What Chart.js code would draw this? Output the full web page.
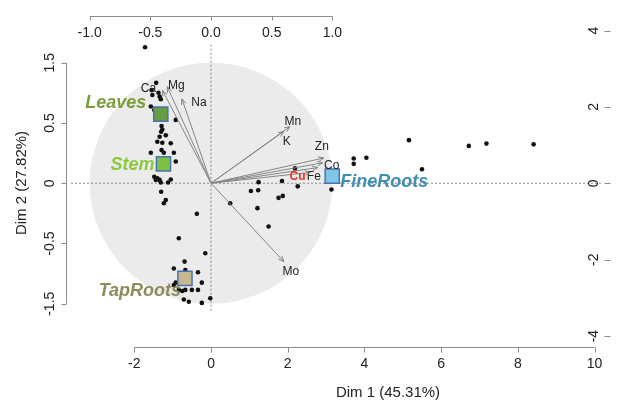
<!DOCTYPE html>
<html>
<head>
<meta charset="utf-8">
<script src="https://cdn.jsdelivr.net/npm/chart.js@4/dist/chart.umd.min.js"></script>
<style>
  body { margin: 0; background: #fff; }
</style>
</head>
<body>
<canvas id="pcaChart" width="618" height="407"></canvas>
<script>
// individuals (scores on Dim 1 / Dim 2)
var indX = [-1.72,-1.43,-1.55,-1.53,-1.37,-1.34,-1.31,-1.57,-1.48,-0.92,
            -1.29,-1.27,-1.30,-1.34,-1.18,-1.40,-1.27,-1.05,-1.57,-1.29,
            -1.23,-0.97,-0.92,-1.48,-1.40,-1.34,-1.44,-1.05,-1.12,-1.31,
            -1.30,-1.18,-1.23,-0.37,-0.84,-0.15,-0.69,-0.97,-0.67,-0.34,
            -0.92,-0.97,-0.24,-0.84,-0.75,-0.67,-0.50,-0.34,-0.71,-0.58,
            -0.24,-0.02,2.19,1.24,1.85,2.26,1.04,1.23,1.87,1.76,
            3.14,0.50,1.21,1.50,3.72,3.72,4.05,5.16,5.50,6.72,
            7.18,8.41];
var indY = [3.56,2.63,2.44,2.31,2.37,2.27,2.20,2.01,1.92,1.66,
            1.50,1.41,1.35,1.22,1.26,1.09,1.06,1.05,0.80,0.87,
            0.80,0.80,0.57,0.17,0.13,0.09,0.09,0.10,0.02,0.02,
            -0.22,-0.44,-0.52,-0.80,-1.44,-1.83,-2.05,-2.23,-2.27,-2.33,
            -2.60,-2.66,-2.60,-2.79,-2.82,-2.79,-2.79,-2.79,-3.04,-3.10,
            -3.13,-3.01,0.39,0.03,0.06,-0.08,-0.20,-0.18,-0.33,-0.38,
            -0.16,-0.52,-0.65,-1.13,0.65,0.51,0.67,1.13,0.37,0.98,
            1.04,1.02];

// organ centroids
var groups = ["Leaves", "Stem", "TapRoots", "FineRoots"];
var groupX = [-1.31, -1.24, -0.68, 3.16];
var groupY = [1.81, 0.51, -2.49, 0.19];

// variables (correlations with Dim 1 / Dim 2)
var vars = ["Ca", "Mg", "Na", "Mn", "K", "Zn", "Co", "Fe", "Cu", "Mo"];
var varX = [-0.40, -0.36, -0.24, 0.65, 0.60, 0.93, 0.92, 0.88, 0.82, 0.60];
var varY = [0.77, 0.80, 0.70, 0.47, 0.43, 0.21, 0.17, 0.13, 0.09, -0.65];

// axis ticks
var dim1Ticks = [-2, 0, 2, 4, 6, 8, 10];
var dim2Ticks = [-4, -2, 0, 2, 4];
var corXTicks = [-1, -0.5, 0, 0.5, 1];
var corXLabels = ["-1.0", "-0.5", "0.0", "0.5", "1.0"];
var corYTicks = [-1, -0.5, 0, 0.5, 1];
var corYLabels = ["-1.5", "-0.5", "0", "0.5", "1.5"];

// styles
var groupFill = ["#64a043", "#7cc143", "#c6b98f", "#80c4e6"];
var groupText = ["#7a9e3c", "#8dc83f", "#8d8b5c", "#3f8db0"];
var groupLabelOffset = [[-45, -11], [-31, 1], [-45, 13], [52, 6]];
var varLabelOffset = [[-14, -2], [9, -1], [17, 4], [3, -5], [3, 10], [-2, -11], [9, 3], [-4, 9], [-13, 4], [7, 10]];
var axisColor = "#8c8c8c";
var font = "'Liberation Sans', Arial, sans-serif";

var pts = indX.map(function (x, i) { return { x: x, y: indY[i] }; });
var centroids = groupX.map(function (x, i) { return { x: x, y: groupY[i] }; });

var datasets = [{
    label: "groups",
    data: centroids,
    pointStyle: "rect",
    pointRadius: 10,
    backgroundColor: groupFill,
    borderColor: "#4a72b2",
    borderWidth: 1.5
}];
vars.forEach(function (v, i) {
    datasets.push({
        label: v,
        data: [{ x: 0, y: 0 }, { x: varX[i], y: varY[i] }],
        xAxisID: "xl",
        yAxisID: "yl",
        showLine: true,
        borderColor: "#868686",
        borderWidth: 1,
        pointRadius: 0
    });
});
datasets.push({
    label: "individuals",
    data: pts,
    pointRadius: 2.3,
    backgroundColor: "#111",
    borderWidth: 0
});
var arrowCount = vars.length;

function rotText(ctx, txt, x, y) {
    ctx.save();
    ctx.translate(x, y);
    ctx.rotate(-Math.PI / 2);
    ctx.fillText(txt, 0, 0);
    ctx.restore();
}

var background = {
    id: "background",
    beforeDatasetsDraw: function (chart) {
        var ctx = chart.ctx, s = chart.scales;
        var cx = s.xl.getPixelForValue(0), cy = s.yl.getPixelForValue(0);
        var rx = s.xl.getPixelForValue(1) - cx, ry = cy - s.yl.getPixelForValue(1);
        ctx.save();
        ctx.fillStyle = "#ebebeb";
        ctx.beginPath();
        ctx.ellipse(cx, cy, rx, ry, 0, 0, Math.PI * 2);
        ctx.fill();
        ctx.strokeStyle = "#8a8a8a";
        ctx.lineWidth = 1;
        ctx.setLineDash([2, 2]);
        ctx.beginPath();
        ctx.moveTo(s.x.getPixelForValue(-3.65), cy);
        ctx.lineTo(s.x.getPixelForValue(10.2), cy);
        ctx.moveTo(cx, s.yl.getPixelForValue(1.15));
        ctx.lineTo(cx, s.yl.getPixelForValue(-1.06));
        ctx.stroke();
        ctx.restore();
    }
};

var labels = {
    id: "labels",
    afterDatasetsDraw: function (chart) {
        var ctx = chart.ctx;
        ctx.save();
        // arrow heads
        ctx.strokeStyle = "#868686";
        ctx.lineWidth = 1;
        for (var i = 0; i < arrowCount; i++) {
            var m = chart.getDatasetMeta(i + 1).data;
            var a = Math.atan2(m[1].y - m[0].y, m[1].x - m[0].x);
            ctx.beginPath();
            ctx.moveTo(m[1].x - 6 * Math.cos(a - 0.4), m[1].y - 6 * Math.sin(a - 0.4));
            ctx.lineTo(m[1].x, m[1].y);
            ctx.lineTo(m[1].x - 6 * Math.cos(a + 0.4), m[1].y - 6 * Math.sin(a + 0.4));
            ctx.stroke();
            ctx.textAlign = "center";
            ctx.textBaseline = "middle";
            if (vars[i] === "Cu") {
                ctx.font = "bold 12px " + font;
                ctx.fillStyle = "#e8322a";
            } else {
                ctx.font = "12px " + font;
                ctx.fillStyle = "#222";
            }
            ctx.fillText(vars[i], m[1].x + varLabelOffset[i][0], m[1].y + varLabelOffset[i][1]);
        }
        // group names
        var g = chart.getDatasetMeta(0).data;
        ctx.font = "italic bold 18px " + font;
        groups.forEach(function (name, i) {
            ctx.fillStyle = groupText[i];
            ctx.fillText(name, g[i].x + groupLabelOffset[i][0], g[i].y + groupLabelOffset[i][1]);
        });
        ctx.restore();
    }
};

var axes = {
    id: "axes",
    afterDraw: function (chart) {
        var ctx = chart.ctx, s = chart.scales, area = chart.chartArea;
        ctx.save();
        ctx.strokeStyle = axisColor;
        ctx.lineWidth = 1;
        ctx.fillStyle = "#222";
        ctx.font = "14px " + font;
        ctx.textAlign = "center";
        ctx.textBaseline = "middle";

        // bottom: Dim 1 scores
        var yb = area.bottom + 0.5;
        ctx.beginPath();
        ctx.moveTo(s.x.getPixelForValue(dim1Ticks[0]), yb);
        ctx.lineTo(s.x.getPixelForValue(dim1Ticks[dim1Ticks.length - 1]), yb);
        dim1Ticks.forEach(function (t) {
            var px = Math.round(s.x.getPixelForValue(t)) + 0.5;
            ctx.moveTo(px, yb);
            ctx.lineTo(px, yb + 5);
        });
        ctx.stroke();
        dim1Ticks.forEach(function (t) {
            ctx.fillText(String(t), s.x.getPixelForValue(t), yb + 17);
        });

        // top: Dim 1 correlations
        var yt = area.top + 0.5;
        ctx.beginPath();
        ctx.moveTo(s.xl.getPixelForValue(corXTicks[0]), yt);
        ctx.lineTo(s.xl.getPixelForValue(corXTicks[corXTicks.length - 1]), yt);
        corXTicks.forEach(function (t) {
            var px = Math.round(s.xl.getPixelForValue(t)) + 0.5;
            ctx.moveTo(px, yt);
            ctx.lineTo(px, yt + 4);
        });
        ctx.stroke();
        corXTicks.forEach(function (t, i) {
            ctx.fillText(corXLabels[i], s.xl.getPixelForValue(t), yt + 17);
        });

        // left: Dim 2 correlations
        var xl = area.left + 0.5;
        ctx.beginPath();
        ctx.moveTo(xl, s.yl.getPixelForValue(corYTicks[0]));
        ctx.lineTo(xl, s.yl.getPixelForValue(corYTicks[corYTicks.length - 1]));
        corYTicks.forEach(function (t) {
            var py = Math.round(s.yl.getPixelForValue(t)) + 0.5;
            ctx.moveTo(xl, py);
            ctx.lineTo(xl - 5, py);
        });
        ctx.stroke();
        corYTicks.forEach(function (t, i) {
            rotText(ctx, corYLabels[i], xl - 16, s.yl.getPixelForValue(t));
        });

        // right: Dim 2 scores
        var xr = area.right;
        ctx.beginPath();
        dim2Ticks.forEach(function (t) {
            var py = Math.round(s.y.getPixelForValue(t)) + 0.5;
            ctx.moveTo(xr - 2, py);
            ctx.lineTo(xr + 4, py);
        });
        ctx.stroke();
        dim2Ticks.forEach(function (t) {
            rotText(ctx, String(t), xr - 12, s.y.getPixelForValue(t));
        });

        // titles
        ctx.font = "15px " + font;
        ctx.fillText("Dim 1 (45.31%)", 388, 393);
        rotText(ctx, "Dim 2 (27.82%)", 22, 183);
        ctx.restore();
    }
};

var ctxP = document.getElementById("pcaChart").getContext("2d");
var myPcaChart = new Chart(ctxP, {
    type: "scatter",
    data: { datasets: datasets },
    options: {
        responsive: false,
        animation: false,
        layout: { padding: { left: 66, right: 6, top: 16, bottom: 60 } },
        plugins: { legend: { display: false }, tooltip: { enabled: false } },
        scales: {
            x: { type: "linear", display: false, min: -3.781, max: 10.31 },
            y: { type: "linear", display: false, min: -4.285, max: 4.38 },
            xl: { type: "linear", axis: "x", display: false, min: -1.195, max: 3.259 },
            yl: { type: "linear", axis: "y", display: false, min: -1.359, max: 1.388 }
        }
    },
    plugins: [background, labels, axes]
});
</script>
</body>
</html>
